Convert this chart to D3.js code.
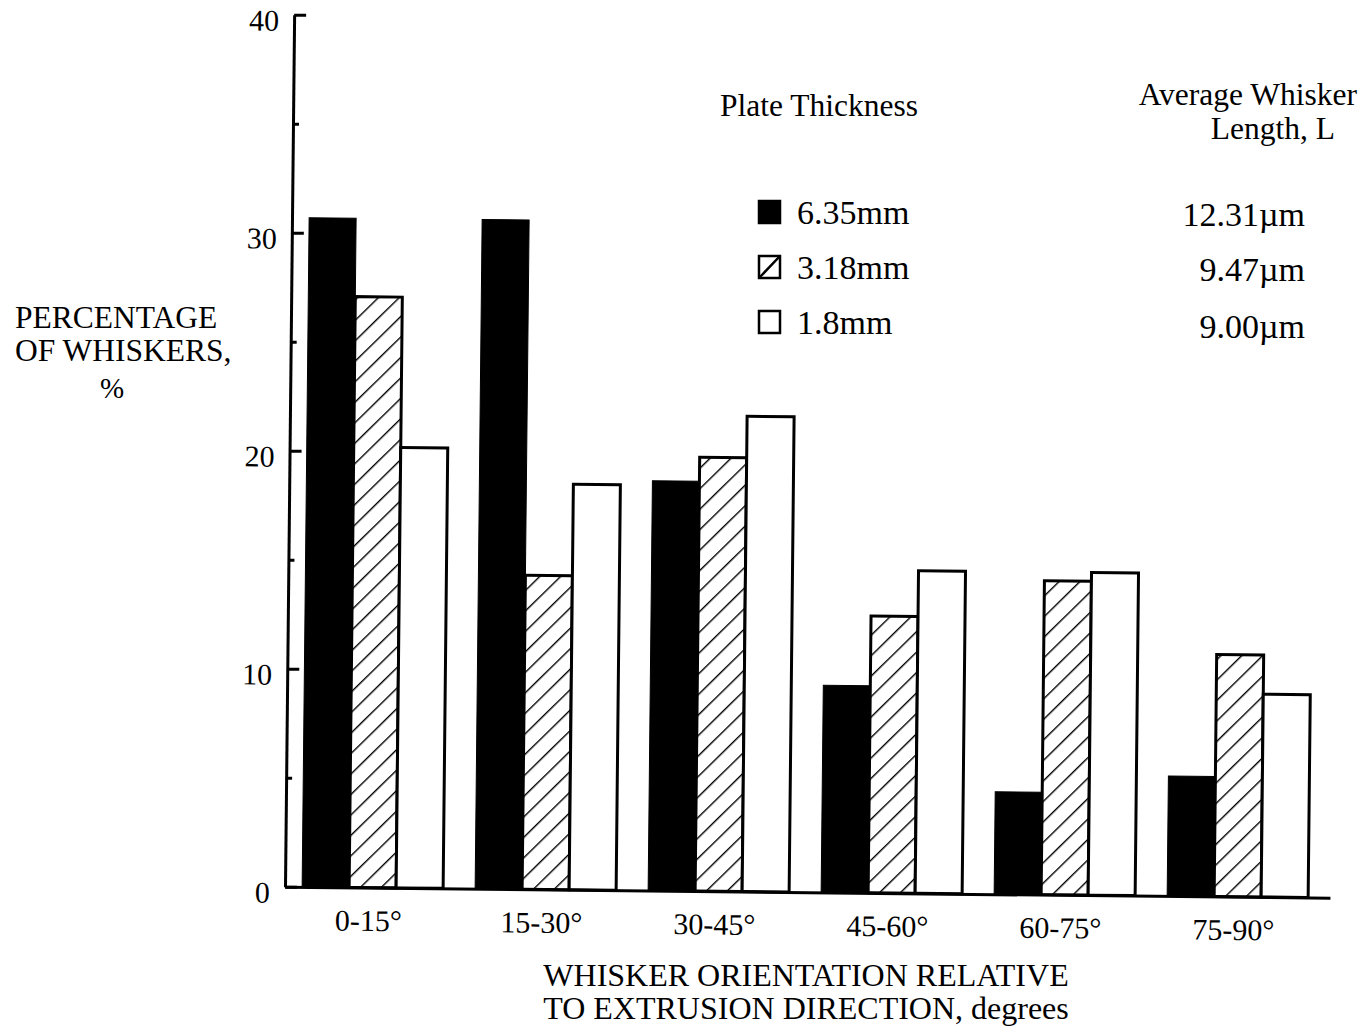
<!DOCTYPE html>
<html>
<head>
<meta charset="utf-8">
<script src="https://cdn.jsdelivr.net/npm/d3@7"></script>
<style>
  html, body { margin: 0; padding: 0; background: #fff; }
  svg { display: block; }
  text { font-family: "Liberation Serif", "Times New Roman", serif; fill: #000; }
</style>
</head>
<body>
<svg id="chart" width="1365" height="1032"></svg>
<script>
// Whisker orientation bins (degrees from extrusion direction)
const categories = ["0-15°", "15-30°", "30-45°", "45-60°", "60-75°", "75-90°"];

// Plate thickness series and their average whisker lengths
const seriesKeys = ["t635", "t318", "t180"];
const seriesNames = ["6.35mm", "3.18mm", "1.8mm"];
const seriesLengths = ["12.31\u00b5m", "9.47\u00b5m", "9.00\u00b5m"];

// Percentage of whiskers in each orientation bin
const pct635 = [30.7, 30.7, 18.8, 9.5, 4.7, 5.5];
const pct318 = [27.1, 14.4, 19.9, 12.7, 14.4, 11.1];
const pct180 = [20.2, 18.6, 21.8, 14.8, 14.8, 9.3];

const yMajorTicks = [0, 10, 20, 30, 40];
const yMinorTicks = [5, 15, 25, 35];

const seriesValues = [pct635, pct318, pct180];
const rows = categories.map((c, i) => ({
  cat: c,
  vals: seriesKeys.map((k, j) => ({ key: k, value: seriesValues[j][i] }))
}));

const svg = d3.select("#chart");
svg.append("rect").attr("width", 1365).attr("height", 1032).attr("fill", "#fff");

const W = 1045, H = 872;

// Hatch fill for the middle series
const defs = svg.append("defs");
defs.append("pattern")
  .attr("id", "hatch")
  .attr("patternUnits", "userSpaceOnUse")
  .attr("width", 14.6).attr("height", 14.6)
  .attr("patternTransform", "rotate(45)")
  .append("line")
  .attr("x1", 0).attr("y1", 0).attr("x2", 0).attr("y2", 14.6)
  .attr("stroke", "#000").attr("stroke-width", 2.8);

// The plotted figure sits at a slight clockwise tilt on the page
const g = svg.append("g")
  .attr("transform", `translate(285,886.7) rotate(0.6) translate(0,${-H})`);

const x0 = d3.scaleBand()
  .domain(categories)
  .range([0, W])
  .paddingInner(0.185)
  .paddingOuter(0.1125)
  .align(0.44);

const x1 = d3.scaleBand()
  .domain(seriesKeys)
  .range([0, x0.bandwidth()])
  .padding(0);

const y = d3.scaleLinear().domain([0, 40]).range([H, 0]);

const fills = { t635: "#000", t318: "url(#hatch)", t180: "#fff" };

// Bars
g.append("g")
  .selectAll("g")
  .data(rows)
  .join("g")
  .attr("transform", d => `translate(${x0(d.cat)},0)`)
  .selectAll("rect")
  .data(d => d.vals)
  .join("rect")
  .attr("x", d => x1(d.key))
  .attr("width", x1.bandwidth())
  .attr("y", d => y(d.value))
  .attr("height", d => y(0) - y(d.value))
  .attr("fill", d => fills[d.key])
  .attr("stroke", "#000")
  .attr("stroke-width", d => d.key === "t635" ? 1 : 3)
  .attr("stroke-linejoin", "miter");

// Y axis: inward ticks, labels to the left
const yAxis = g.append("g")
  .call(d3.axisLeft(y)
    .tickValues(yMajorTicks)
    .tickSizeInner(-12)
    .tickSizeOuter(0)
    .tickPadding(15)
    .tickFormat(d3.format("d")));
yAxis.select(".domain").attr("stroke-width", 3);
yAxis.selectAll(".tick line").attr("stroke-width", 3);
yAxis.selectAll(".tick text")
  .attr("font-size", 30)
  .attr("font-family", "Liberation Serif, serif")
  .attr("dy", "0.52em");

const yMinor = g.append("g")
  .call(d3.axisLeft(y)
    .tickValues(yMinorTicks)
    .tickSizeInner(-6)
    .tickSizeOuter(0)
    .tickFormat(""));
yMinor.select(".domain").remove();
yMinor.selectAll(".tick line").attr("stroke-width", 3);

// X axis
const xAxis = g.append("g")
  .attr("transform", `translate(0,${H})`)
  .call(d3.axisBottom(x0).tickSize(0).tickSizeOuter(0).tickPadding(22));
xAxis.select(".domain").attr("stroke-width", 3);
xAxis.selectAll(".tick text")
  .attr("font-size", 30)
  .attr("font-family", "Liberation Serif, serif")
  .attr("dx", -4);

// Titles and legend
const page = svg.append("g");

const yTitle = page.append("g").attr("font-size", 31.5);
yTitle.append("text").attr("x", 15).attr("y", 328).text("PERCENTAGE");
yTitle.append("text").attr("x", 15).attr("y", 361).text("OF WHISKERS,");
yTitle.append("text").attr("x", 112).attr("y", 398).attr("font-size", 29)
  .attr("text-anchor", "middle").text("%");

const xTitle = page.append("g").attr("font-size", 32).attr("text-anchor", "middle");
xTitle.append("text").attr("x", 806).attr("y", 986).text("WHISKER ORIENTATION RELATIVE");
xTitle.append("text").attr("x", 806).attr("y", 1019).text("TO EXTRUSION DIRECTION, degrees");

page.append("text").attr("x", 720).attr("y", 116).attr("font-size", 31.5).text("Plate Thickness");
page.append("text").attr("x", 1357).attr("y", 105).attr("font-size", 31.5)
  .attr("text-anchor", "end").text("Average Whisker");
page.append("text").attr("x", 1335).attr("y", 139).attr("font-size", 31.5)
  .attr("text-anchor", "end").text("Length,  L");

const legend = page.append("g")
  .selectAll("g")
  .data(seriesKeys.map((k, i) => ({ key: k, name: seriesNames[i], len: seriesLengths[i], i })))
  .join("g")
  .attr("transform", d => `translate(0,${212 + d.i * 55})`);

legend.append("rect")
  .attr("x", 759).attr("y", -11).attr("width", 21).attr("height", 22)
  .attr("fill", d => d.key === "t635" ? "#000" : "#fff")
  .attr("stroke", "#000").attr("stroke-width", 2.5);
legend.filter(d => d.key === "t318").append("line")
  .attr("x1", 759).attr("y1", 11).attr("x2", 780).attr("y2", -11)
  .attr("stroke", "#000").attr("stroke-width", 2.5);
legend.append("text")
  .attr("x", 797).attr("y", 12).attr("font-size", 34)
  .text(d => d.name);
legend.append("text")
  .attr("x", 1305).attr("y", d => 12 + (d.i === 2 ? 4 : 2)).attr("font-size", 34)
  .attr("text-anchor", "end")
  .text(d => d.len);
</script>
</body>
</html>
